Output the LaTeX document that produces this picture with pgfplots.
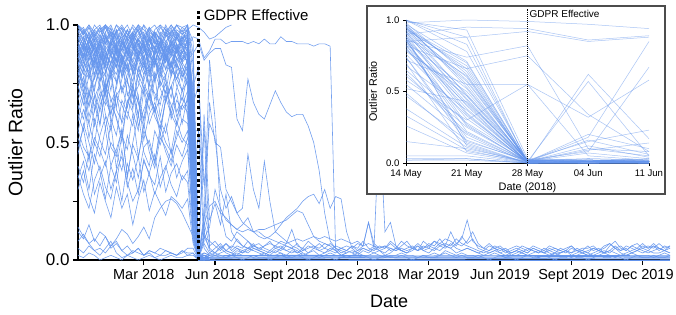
\documentclass[border=0pt]{standalone}
\usepackage{fontspec}
\setmainfont{Liberation Sans}
\usepackage{pgfplots}
\usepackage{pgfplotstable}
\pgfplotsset{compat=1.18}
\definecolor{ln}{RGB}{100,149,237}

% each row = one series, columns = weeks 0..24 (week 20 = 14 May 2018, 22 = 28 May 2018)
\pgfplotstableread[header=false]{0.95 0.92 0.97 0.88 0.93 1.0 0.96 0.90 0.94 0.98  0.91 0.87 0.95 0.99 0.93 0.90 0.96 0.92 0.97 0.94  0.98 0.62 0.01 0.02 0.01
0.88 0.93 0.85 0.91 0.96 0.89 0.83 0.92 0.95 0.87  0.90 0.94 0.86 0.91 0.97 0.88 0.84 0.93 0.90 0.95  0.92 0.48 0.02 0.01 0.03
1.0 0.98 0.94 1.0 0.97 0.99 0.93 1.0 0.96 0.95  1.0 0.97 0.92 0.98 1.0 0.96 0.99 0.94 1.0 0.97  1.0 0.88 0.00 0.01 0.00
0.82 0.90 0.78 0.86 0.92 0.80 0.88 0.75 0.84 0.91  0.79 0.87 0.93 0.81 0.77 0.89 0.85 0.92 0.80 0.86  0.90 0.35 0.00 0.62 0.17
0.93 0.86 0.95 0.90 0.82 0.94 0.97 0.88 0.91 0.85  0.96 0.92 0.89 0.95 0.87 0.93 0.98 0.90 0.86 0.94  0.96 0.55 0.00 0.02 0.01
0.76 0.84 0.91 0.79 0.87 0.83 0.72 0.88 0.80 0.86  0.92 0.78 0.84 0.75 0.89 0.82 0.87 0.79 0.91 0.85  0.88 0.42 0.02 0.01 0.01
0.97 0.93 0.99 0.95 0.91 0.97 1.0 0.94 0.89 0.96  0.93 0.99 0.95 0.91 0.97 0.94 0.92 0.98 0.95 0.99  0.97 0.71 0.01 0.01 0.00
0.89 0.95 0.87 0.82 0.91 0.96 0.88 0.93 0.85 0.90  0.97 0.86 0.92 0.88 0.83 0.94 0.90 0.87 0.95 0.91  0.86 0.27 0.00 0.00 0.01
0.91 0.85 0.80 0.94 0.88 0.83 0.92 0.97 0.86 0.81  0.89 0.94 0.90 0.84 0.93 0.87 0.81 0.90 0.96 0.88  0.93 0.60 0.01 0.20 0.10
0.85 0.91 0.96 0.88 0.80 0.87 0.93 0.84 0.90 0.95  0.82 0.88 0.91 0.97 0.85 0.80 0.92 0.88 0.84 0.90  0.87 0.15 0.02 0.01 0.00
0.99 0.96 0.92 0.98 0.95 1.0 0.97 0.93 0.99 0.96  0.94 1.0 0.98 0.95 0.92 0.99 0.96 1.0 0.97 0.93  0.99 0.93 0.03 0.02 0.01
0.80 0.74 0.86 0.92 0.83 0.78 0.90 0.85 0.79 0.88  0.93 0.82 0.76 0.87 0.91 0.84 0.78 0.89 0.83 0.80  0.85 0.52 0.01 0.57 0.05
0.94 0.98 0.91 0.87 0.95 0.92 0.99 0.90 0.86 0.93  0.97 0.91 0.88 0.96 0.93 0.89 0.95 0.99 0.92 0.88  0.94 0.66 0.00 0.01 0.01
0.87 0.81 0.93 0.89 0.76 0.85 0.91 0.82 0.94 0.88  0.79 0.86 0.92 0.83 0.89 0.95 0.81 0.87 0.92 0.78  0.83 0.22 0.01 0.00 0.00
0.96 0.91 0.88 0.95 0.99 0.93 0.87 0.96 0.92 0.98  0.90 0.95 0.97 0.89 0.94 0.91 0.97 0.93 0.88 0.96  1.0 0.78 0.02 0.01 0.02
0.78 0.88 0.83 0.72 0.85 0.90 0.80 0.76 0.87 0.82  0.73 0.89 0.84 0.79 0.86 0.75 0.88 0.81 0.77 0.84  0.80 0.31 0.01 0.18 0.85
0.92 0.97 0.94 0.90 0.86 0.95 0.91 0.98 0.93 0.88  0.96 0.92 0.85 0.94 0.90 0.97 0.93 0.89 0.95 0.92  0.91 0.45 0.00 0.00 0.00
0.84 0.79 0.88 0.94 0.81 0.87 0.77 0.90 0.84 0.80  0.91 0.85 0.79 0.88 0.82 0.93 0.86 0.80 0.89 0.84  0.95 0.58 0.02 0.02 0.01
1.0 0.97 1.0 0.95 0.98 1.0 0.94 0.97 1.0 0.96  0.99 0.93 1.0 0.97 0.95 1.0 0.98 0.96 1.0 0.99  1.0 0.83 0.01 0.00 0.01
0.90 0.84 0.79 0.88 0.93 0.86 0.81 0.91 0.87 0.76  0.89 0.94 0.83 0.78 0.90 0.85 0.91 0.87 0.82 0.89  0.84 0.38 0.01 0.12 0.04
0.86 0.92 0.88 0.83 0.90 0.95 0.87 0.82 0.92 0.89  0.84 0.90 0.96 0.88 0.83 0.91 0.86 0.94 0.89 0.85  0.89 0.12 0.00 0.02 0.01
0.73 0.82 0.77 0.86 0.80 0.71 0.84 0.89 0.78 0.83  0.76 0.87 0.81 0.74 0.85 0.79 0.90 0.83 0.77 0.82  0.78 0.50 0.02 0.08 0.67
0.95 0.89 0.93 0.97 0.90 0.86 0.94 0.91 0.96 0.88  0.93 0.98 0.90 0.87 0.95 0.92 0.88 0.94 0.97 0.91  0.96 0.64 0.01 0.01 0.02
0.81 0.87 0.92 0.77 0.84 0.89 0.83 0.79 0.88 0.93  0.80 0.86 0.82 0.90 0.76 0.85 0.91 0.78 0.86 0.83  0.74 0.18 0.01 0.09 0.14
0.98 0.94 0.90 0.96 0.99 0.92 0.97 0.95 0.91 0.98  0.94 0.96 1.0 0.93 0.97 0.94 0.90 0.97 0.94 0.98  0.92 0.57 0.02 0.03 0.02
0.88 0.92 0.85 0.91 0.87 0.82 0.93 0.89 0.84 0.90  0.95 0.87 0.83 0.91 0.88 0.93 0.85 0.90 0.88 0.93  0.82 0.41 0.00 0.01 0.00
0.70 0.78 0.65 0.74 0.81 0.68 0.62 0.75 0.83 0.71  0.66 0.79 0.73 0.64 0.77 0.82 0.69 0.74 0.80 0.72  0.76 0.33 0.01 0.16 0.06
0.62 0.55 0.71 0.66 0.58 0.74 0.69 0.60 0.53 0.67  0.72 0.57 0.64 0.70 0.61 0.56 0.68 0.74 0.63 0.69  0.65 0.28 0.02 0.01 0.01
0.78 0.71 0.84 0.63 0.76 0.80 0.67 0.73 0.86 0.70  0.75 0.61 0.79 0.83 0.68 0.76 0.71 0.85 0.74 0.68  0.79 0.47 0.00 0.01 0.00
0.55 0.64 0.58 0.49 0.66 0.72 0.60 0.53 0.68 0.63  0.57 0.70 0.51 0.62 0.67 0.59 0.54 0.65 0.71 0.58  0.70 0.08 0.01 0.00 0.01
0.85 0.72 0.66 0.79 0.88 0.70 0.81 0.65 0.77 0.84  0.69 0.74 0.87 0.72 0.63 0.80 0.76 0.69 0.83 0.78  0.82 0.66 0.75 0.34 0.08
0.68 0.75 0.61 0.70 0.57 0.73 0.79 0.64 0.59 0.76  0.70 0.62 0.74 0.68 0.79 0.61 0.72 0.66 0.58 0.73  0.61 0.25 0.01 0.07 0.03
0.74 0.66 0.79 0.71 0.63 0.77 0.58 0.70 0.74 0.65  0.81 0.69 0.60 0.75 0.71 0.66 0.78 0.62 0.73 0.80  0.74 0.14 0.00 0.01 0.01
0.59 0.70 0.52 0.64 0.71 0.56 0.66 0.61 0.50 0.68  0.63 0.55 0.72 0.58 0.65 0.53 0.69 0.62 0.57 0.66  0.72 0.55 0.55 0.32 0.58
0.81 0.76 0.69 0.85 0.72 0.66 0.79 0.83 0.71 0.77  0.64 0.82 0.75 0.70 0.80 0.73 0.67 0.79 0.84 0.76  0.86 0.74 0.82 0.10 0.05
0.66 0.60 0.73 0.57 0.69 0.75 0.62 0.71 0.58 0.65  0.74 0.67 0.56 0.71 0.63 0.69 0.75 0.60 0.68 0.64  0.68 0.37 0.01 0.00 0.01
0.52 0.45 0.38 0.50 0.44 0.56 0.40 0.47 0.55 0.36  0.49 0.43 0.58 0.46 0.39 0.52 0.48 0.42 0.55 0.50  0.55 0.20 0.00 0.01 0.01
0.40 0.33 0.46 0.28 0.35 0.42 0.30 0.38 0.25 0.41  0.34 0.44 0.29 0.37 0.45 0.31 0.39 0.47 0.35 0.42  0.47 0.16 0.01 0.10 0.08
0.55 0.48 0.44 0.52 0.47 0.40 0.50 0.46 0.38 0.53  0.45 0.35 0.48 0.51 0.42 0.54 0.46 0.40 0.49 0.44  0.52 0.43 0.02 0.15 0.23
0.36 0.28 0.22 0.34 0.40 0.31 0.26 0.38 0.44 0.33  0.25 0.30 0.42 0.37 0.28 0.35 0.40 0.32 0.27 0.36  0.33 0.09 0.00 0.00 0.00
0.45 0.58 0.50 0.41 0.53 0.61 0.48 0.44 0.56 0.35  0.50 0.62 0.46 0.40 0.55 0.49 0.58 0.45 0.52 0.60  0.58 0.30 0.55 0.05 0.02
0.30 0.38 0.27 0.20 0.33 0.25 0.18 0.31 0.22 0.28  0.15 0.26 0.34 0.21 0.29 0.24 0.19 0.27 0.25 0.22  0.26 0.07 0.00 0.01 0.00
0.14 0.10 0.07 0.04 0.05 0.03 0.06 0.08 0.04 0.02  0.03 0.05 0.02 0.04 0.03 0.02 0.04 0.03 0.02 0.03  0.05 0.05 0.00 0.01 0.00
0.05 0.03 0.06 0.04 0.02 0.05 0.08 0.03 0.01 0.02  0.04 0.03 0.02 0.03 0.01 0.02 0.02 0.03 0.02 0.04  0.03 0.03 0.00 0.00 0.00
0.08 0.11 0.07 0.09 0.06 0.10 0.05 0.07 0.04 0.06  0.03 0.05 0.02 0.04 0.03 0.05 0.04 0.03 0.02 0.04  0.02 0.03 0.00 0.00 0.01
0.02 0.01 0.03 0.02 0.00 0.01 0.02 0.01 0.00 0.02  0.01 0.00 0.01 0.02 0.01 0.00 0.01 0.02 0.01 0.01  0.02 0.02 0.00 0.00 0.00
0.12 0.09 0.15 0.08 0.12 0.10 0.06 0.09 0.13 0.11  0.07 0.10 0.14 0.09 0.18 0.22 0.25 0.26 0.24 0.20  0.15 0.10 0.01 0.00 0.01
0.99 0.96 1.0 0.97 0.93 0.99 0.95 1.0 0.98 0.94  0.97 1.0 0.96 0.93 0.98 1.0 0.95 0.97 1.0 0.96  0.98 1.0 0.99 0.97 0.94
0.91 0.87 0.94 0.90 0.85 0.92 0.96 0.88 0.83 0.91  0.94 0.89 0.86 0.93 0.90 0.85 0.92 0.88 0.94 0.91  0.90 0.95 0.94 0.86 0.89
0.86 0.91 0.82 0.88 0.93 0.84 0.79 0.90 0.87 0.81  0.89 0.92 0.85 0.80 0.88 0.93 0.86 0.82 0.90 0.87  0.85 0.88 0.92 0.85 0.88
0.97 0.99 0.94 0.98 1.0 0.95 0.92 0.97 0.99 0.93  0.96 1.0 0.94 0.98 0.95 0.91 0.97 1.0 0.96 0.93  0.97 0.53 0.01 0.01 0.02
0.83 0.89 0.94 0.86 0.79 0.91 0.87 0.82 0.93 0.88  0.84 0.80 0.90 0.95 0.86 0.81 0.89 0.92 0.85 0.88  0.91 0.44 0.00 0.01 0.01
0.92 0.86 0.90 0.96 0.89 0.84 0.93 0.88 0.97 0.91  0.85 0.92 0.88 0.94 0.90 0.96 0.87 0.92 0.89 0.95  0.88 0.61 0.02 0.02 0.01
0.75 0.81 0.70 0.78 0.85 0.73 0.80 0.86 0.72 0.79  0.83 0.76 0.71 0.82 0.87 0.74 0.79 0.84 0.77 0.72  0.81 0.26 0.01 0.00 0.00
1.0 0.96 0.99 0.93 0.97 1.0 0.98 0.94 0.97 1.0  0.95 0.98 0.93 0.99 0.96 0.94 1.0 0.95 0.98 0.96  0.94 0.70 0.01 0.02 0.01
0.88 0.82 0.91 0.85 0.94 0.80 0.87 0.92 0.83 0.89  0.93 0.86 0.81 0.90 0.84 0.91 0.87 0.83 0.92 0.86  0.85 0.34 0.00 0.01 0.00
0.64 0.72 0.58 0.69 0.75 0.62 0.55 0.70 0.66 0.60  0.73 0.67 0.59 0.71 0.64 0.56 0.68 0.74 0.61 0.66  0.63 0.21 0.01 0.00 0.01
0.94 0.90 0.97 0.92 0.87 0.95 0.91 0.98 0.89 0.94  0.92 0.86 0.95 0.91 0.97 0.88 0.93 0.96 0.90 0.92  0.95 0.47 0.02 0.01 0.01
0.48 0.56 0.42 0.60 0.51 0.45 0.58 0.39 0.53 0.47  0.62 0.44 0.55 0.49 0.41 0.57 0.50 0.46 0.59 0.52  0.49 0.13 0.00 0.01 0.00
0.90 0.95 0.88 0.84 0.92 0.97 0.89 0.85 0.93 0.90  0.87 0.94 0.91 0.86 0.96 0.89 0.84 0.92 0.95 0.90  0.93 0.68 0.01 0.03 0.02
0.79 0.85 0.90 0.82 0.76 0.88 0.84 0.91 0.78 0.86  0.81 0.89 0.93 0.80 0.85 0.78 0.87 0.82 0.90 0.84  0.87 0.40 0.00 0.00 0.01
0.35 0.42 0.30 0.45 0.38 0.26 0.40 0.33 0.47 0.31  0.39 0.28 0.43 0.36 0.32 0.44 0.29 0.37 0.41 0.34  0.38 0.11 0.00 0.01 0.00
}\preraw
\pgfplotstabletranspose{\pre}{\preraw}
\pgfplotstablegetrowsof{\preraw}\xdef\Npre{\pgfplotsretval}

% each row = one series, columns = weeks 24..108
\pgfplotstableread[header=false]{0.02 0.03 0.02 0.01 0.02 0.03 0.02 0.02 0.01 0.02  0.03 0.02 0.02 0.03 0.01 0.02 0.02 0.03 0.02 0.02  0.01 0.02 0.03 0.02 0.02 0.01 0.02 0.03 0.02 0.02  0.03 0.02 0.01 0.02 0.02 0.03 0.02 0.02 0.01 0.02  0.02 0.03 0.02 0.04 0.03 0.02 0.03 0.02 0.02 0.01  0.02 0.02 0.03 0.02 0.01 0.02 0.02 0.03 0.02 0.02  0.01 0.02 0.02 0.03 0.02 0.02 0.01 0.02 0.03 0.02  0.02 0.02 0.03 0.02 0.01 0.02 0.02 0.03 0.02 0.02  0.02 0.01 0.02 0.03 0.02
0.04 0.03 0.05 0.03 0.02 0.04 0.03 0.05 0.04 0.03  0.02 0.04 0.03 0.05 0.04 0.03 0.04 0.02 0.03 0.05  0.04 0.03 0.05 0.04 0.02 0.03 0.04 0.03 0.05 0.04  0.03 0.04 0.02 0.03 0.05 0.04 0.03 0.04 0.06 0.04  0.03 0.05 0.04 0.06 0.05 0.03 0.04 0.05 0.04 0.03  0.02 0.03 0.04 0.03 0.02 0.03 0.04 0.03 0.02 0.03  0.04 0.03 0.02 0.03 0.03 0.04 0.02 0.03 0.04 0.03  0.02 0.03 0.04 0.03 0.05 0.03 0.02 0.03 0.04 0.03  0.04 0.03 0.03 0.04 0.03
0.03 0.02 0.03 0.04 0.03 0.05 0.04 0.05 0.06 0.05  0.06 0.07 0.06 0.08 0.07 0.08 0.09 0.08 0.09 0.10  0.09 0.10 0.09 0.08 0.09 0.08 0.07 0.08 0.06 0.07  0.06 0.05 0.06 0.05 0.04 0.05 0.04 0.05 0.06 0.04  0.05 0.04 0.06 0.05 0.07 0.05 0.04 0.05 0.04 0.03  0.04 0.03 0.04 0.05 0.04 0.03 0.04 0.03 0.05 0.04  0.03 0.04 0.03 0.02 0.03 0.04 0.03 0.04 0.03 0.02  0.03 0.04 0.03 0.04 0.03 0.02 0.03 0.04 0.05 0.04  0.03 0.04 0.05 0.04 0.03
0.06 0.08 0.05 0.07 0.04 0.06 0.05 0.08 0.06 0.07  0.05 0.04 0.06 0.05 0.07 0.13 0.06 0.05 0.08 0.06  0.05 0.07 0.06 0.04 0.05 0.06 0.05 0.07 0.06 0.16  0.07 0.05 0.06 0.04 0.05 0.08 0.06 0.05 0.07 0.05  0.06 0.08 0.07 0.06 0.12 0.07 0.09 0.17 0.08 0.06  0.05 0.07 0.05 0.06 0.04 0.05 0.06 0.05 0.04 0.06  0.05 0.04 0.06 0.05 0.04 0.05 0.06 0.04 0.05 0.05  0.06 0.04 0.05 0.07 0.05 0.06 0.04 0.06 0.05 0.07  0.05 0.06 0.04 0.06 0.05
0.05 0.03 0.06 0.04 0.03 0.02 0.04 0.03 0.05 0.04  0.03 0.02 0.04 0.03 0.02 0.04 0.03 0.05 0.03 0.04  0.02 0.03 0.04 0.03 0.05 0.04 0.03 0.02 0.04 0.03  0.05 0.04 0.03 0.05 0.04 0.06 0.08 0.05 0.04 0.06  0.05 0.08 0.06 0.07 0.06 0.09 0.07 0.06 0.05 0.04  0.03 0.04 0.05 0.03 0.04 0.02 0.03 0.04 0.03 0.05  0.04 0.03 0.05 0.04 0.03 0.04 0.06 0.04 0.03 0.04  0.05 0.04 0.03 0.04 0.06 0.04 0.05 0.03 0.04 0.05  0.04 0.06 0.05 0.04 0.05
0.01 0.02 0.01 0.01 0.02 0.01 0.00 0.01 0.02 0.01  0.01 0.00 0.01 0.02 0.01 0.01 0.02 0.01 0.00 0.01  0.02 0.01 0.01 0.00 0.01 0.02 0.01 0.01 0.02 0.01  0.00 0.01 0.02 0.01 0.01 0.02 0.01 0.00 0.01 0.02  0.01 0.01 0.02 0.03 0.02 0.01 0.02 0.01 0.01 0.02  0.01 0.00 0.01 0.02 0.01 0.01 0.00 0.01 0.02 0.01  0.01 0.02 0.01 0.00 0.01 0.01 0.02 0.01 0.01 0.00  0.01 0.02 0.01 0.01 0.02 0.01 0.00 0.01 0.02 0.01  0.01 0.02 0.01 0.01 0.02
0.08 0.06 0.04 0.07 0.05 0.09 0.06 0.05 0.07 0.04  0.06 0.08 0.05 0.04 0.06 0.05 0.07 0.04 0.05 0.06  0.04 0.05 0.07 0.05 0.03 0.04 0.06 0.04 0.05 0.04  0.06 0.04 0.05 0.07 0.05 0.04 0.03 0.05 0.04 0.08  0.06 0.05 0.07 0.09 0.08 0.06 0.10 0.07 0.09 0.05  0.04 0.06 0.05 0.04 0.05 0.03 0.04 0.06 0.05 0.04  0.03 0.05 0.04 0.03 0.05 0.04 0.03 0.05 0.04 0.06  0.04 0.05 0.03 0.06 0.08 0.05 0.04 0.06 0.07 0.05  0.06 0.05 0.07 0.05 0.06
0.03 0.05 0.07 0.04 0.06 0.05 0.03 0.04 0.06 0.05  0.04 0.03 0.05 0.06 0.04 0.05 0.03 0.04 0.06 0.05  0.07 0.05 0.04 0.06 0.05 0.04 0.06 0.05 0.08 0.05  0.04 0.06 0.05 0.08 0.06 0.04 0.05 0.06 0.04 0.05  0.07 0.06 0.09 0.06 0.05 0.07 0.06 0.08 0.12 0.07  0.05 0.04 0.06 0.05 0.03 0.04 0.05 0.04 0.03 0.05  0.04 0.03 0.04 0.05 0.04 0.03 0.05 0.04 0.04 0.03  0.05 0.04 0.06 0.07 0.05 0.04 0.06 0.05 0.04 0.06  0.05 0.07 0.05 0.04 0.06
}\postraw
\pgfplotstabletranspose{\post}{\postraw}
\pgfplotstablegetrowsof{\postraw}\xdef\Npost{\pgfplotsretval}

\begin{document}
\begin{tikzpicture}
\path[use as bounding box] (-78pt,-54pt) rectangle (598pt,260pt);
\begin{axis}[
  scale only axis, width=592pt, height=235pt,
  at={(0pt,0pt)}, anchor=south west,
  xmin=0, xmax=108, ymin=0, ymax=1,
  axis lines*=left,
  axis line style={line width=1.2pt, black},
  clip=false,
  xtick={12,25,38,51,64,77,90,103},
  xticklabels={Mar 2018,Jun 2018,Sept 2018,Dec 2018,Mar 2019,Jun 2019,Sept 2019,Dec 2019},
  ytick={0,0.25,0.5,0.75,1},
  yticklabels={0.0,,0.5,,1.0},
  tick align=outside, major tick length=5pt,
  tick style={black, line width=1.2pt},
  xticklabel style={font=\fontsize{14.5}{15}\selectfont, yshift=-1pt},
  yticklabel style={font=\fontsize{17}{18}\selectfont},
  xlabel={Date}, ylabel={Outlier Ratio},
  xlabel style={font=\fontsize{18}{20}\selectfont, at={(axis description cs:0.5255,-0.177)}, anchor=center},
  ylabel style={font=\fontsize{19.5}{20}\selectfont, at={(axis description cs:-0.1056,0.5)}, anchor=center},
]
\pgfplotsinvokeforeach{1,...,\Npre}{
  \addplot[ln, line width=0.6pt, opacity=0.9] table[x expr=\coordindex, y index=#1]{\pre};
}
\pgfplotsinvokeforeach{1,...,\Npost}{
  \addplot[ln, line width=0.6pt, opacity=0.9] table[x expr=\coordindex+24, y index=#1]{\post};
}
\addplot[ln, line width=0.9pt] coordinates {(24,0.004)(40,0.005)(60,0.003)(80,0.005)(108,0.004)};
\addplot[ln, line width=0.9pt] coordinates {(24,0.008)(50,0.010)(75,0.008)(108,0.009)};
\addplot[ln, line width=0.9pt] coordinates {(24,0.012)(45,0.014)(70,0.012)(90,0.015)(108,0.013)};
\addplot[ln, line width=0.9pt] coordinates {(24,0.0)(108,0.0)};
\addplot[ln, line width=0.9pt] coordinates {(24,0.018)(40,0.02)(62,0.017)(85,0.019)(108,0.018)};
% series that stay high after GDPR
\addplot[ln, line width=0.6pt, opacity=0.9] coordinates {(24,0.89)(25,0.94)(26,0.94)(27,0.92)(28,0.93)(29,0.93)(30,0.93)(31,0.92)(32,0.93)(33,0.92)(34,0.94)(35,0.92)(36,0.92)(37,0.95)(38,0.93)(39,0.93)(40,0.92)(41,0.92)(42,0.92)(43,0.91)(44,0.92)(45,0.92)(46,0.91)(47,0.04)(48,0.02)(49,0.03)};
\addplot[ln, line width=0.6pt, opacity=0.9] coordinates {(24,0.94)(25,0.95)(26,0.97)(27,0.99)(28,1.0)};
\addplot[ln, line width=0.6pt, opacity=0.9] coordinates {(24,0.88)(25,0.90)(26,0.90)(27,0.83)(28,0.82)(29,0.60)(30,0.55)(31,0.77)(32,0.67)(33,0.62)(34,0.60)(35,0.66)(36,0.72)(37,0.67)(38,0.63)(39,0.61)(40,0.62)(41,0.62)(42,0.57)(43,0.50)(44,0.38)(45,0.20)(46,0.08)(47,0.05)(48,0.04)(49,0.03)};
\addplot[ln, line width=0.6pt, opacity=0.9] coordinates {(24,0.85)(25,0.60)(26,0.20)(27,0.10)(28,0.08)(29,0.12)(30,0.10)(31,0.08)(32,0.05)(33,0.04)(34,0.03)};
\addplot[ln, line width=0.6pt, opacity=0.9] coordinates {(24,0.58)(25,0.52)(26,0.30)(27,0.22)(28,0.27)(29,0.20)(30,0.22)(31,0.45)(32,0.30)(33,0.22)(34,0.42)(35,0.25)(36,0.12)(37,0.10)(38,0.08)(39,0.06)(40,0.05)(41,0.03)};
\addplot[ln, line width=0.6pt, opacity=0.9] coordinates {(24,0.67)(25,0.50)(26,0.48)(27,0.30)(28,0.25)(29,0.20)(30,0.16)(31,0.14)(32,0.12)(33,0.12)(34,0.10)(35,0.09)(36,0.08)(37,0.07)(38,0.06)(39,0.05)(40,0.04)};
\addplot[ln, line width=0.6pt, opacity=0.9] coordinates {(24,0.23)(25,0.25)(26,0.20)(27,0.18)(28,0.15)(29,0.13)(30,0.15)(31,0.18)(32,0.12)(33,0.10)(34,0.09)(35,0.10)(36,0.12)(37,0.15)(38,0.18)(39,0.20)(40,0.22)(41,0.25)(42,0.27)(43,0.28)(44,0.24)(45,0.30)(46,0.22)(47,0.27)(48,0.26)(49,0.12)(50,0.05)(51,0.03)};
\addplot[ln, line width=0.6pt, opacity=0.9] coordinates {(24,0.17)(25,0.24)(26,0.15)(27,0.28)(28,0.12)(29,0.08)(30,0.06)(31,0.05)(32,0.04)};
\addplot[ln, line width=0.6pt, opacity=0.9] coordinates {(24,0.14)(25,0.30)(26,0.22)(27,0.17)(28,0.15)(29,0.13)(30,0.12)(31,0.13)(32,0.12)(33,0.13)(34,0.13)(35,0.14)(36,0.15)(37,0.16)(38,0.17)(39,0.19)(40,0.21)(41,0.20)(42,0.15)(43,0.10)(44,0.08)(45,0.07)(46,0.06)};
\addplot[ln, line width=0.6pt, opacity=0.9] coordinates {(50,0.03)(51,0.04)(52,0.06)(53,0.16)(54,0.05)(55,0.60)(56,0.12)(57,0.16)(58,0.06)(59,0.04)(60,0.03)};
% GDPR marker
\draw[black, line width=2.5pt, dash pattern=on 2.8pt off 2.8pt] (axis cs:22,0) -- (axis cs:22,1.07);
\node[anchor=west, font=\fontsize{15}{16}\selectfont, inner sep=0pt, xshift=5pt] at (axis cs:22,1.04) {GDPR Effective};
\end{axis}

% inset panel
\fill[white] (289pt,66pt) rectangle (587pt,254pt);
\draw[black!70, line width=1.2pt] (289pt,66pt) rectangle (587pt,254pt);

\begin{axis}[
  scale only axis, width=243pt, height=143pt,
  at={(328pt,97pt)}, anchor=south west,
  xmin=20, xmax=24, ymin=0, ymax=1,
  axis lines*=left,
  axis line style={line width=0.8pt, black},
  clip=false,
  restrict x to domain=20:24,
  xtick={20,21,22,23,24},
  xticklabels={14 May,21 May,28 May,04 Jun,11 Jun},
  ytick={0,0.5,1},
  yticklabels={0.0,0.5,1.0},
  tick align=outside, major tick length=3pt,
  tick style={black, line width=0.8pt},
  ticklabel style={font=\fontsize{9.6}{10}\selectfont},
  xlabel={Date (2018)}, ylabel={Outlier Ratio},
  xlabel style={font=\fontsize{10.9}{11}\selectfont, at={(axis description cs:0.5,-0.175)}, anchor=center},
  ylabel style={font=\fontsize{10.8}{11}\selectfont, at={(axis description cs:-0.136,0.5)}, anchor=center},
]
\pgfplotsinvokeforeach{1,...,\Npre}{
  \addplot[ln, line width=0.5pt, opacity=0.55] table[x expr=\coordindex, y index=#1]{\pre};
}
\draw[black, line width=0.8pt, dash pattern=on 1pt off 1pt] (axis cs:22,0) -- (axis cs:22,1.08);
\node[anchor=west, font=\fontsize{10}{11}\selectfont, inner sep=0pt, xshift=2pt] at (axis cs:22,1.044) {GDPR Effective};
\end{axis}
\end{tikzpicture}
\end{document}
